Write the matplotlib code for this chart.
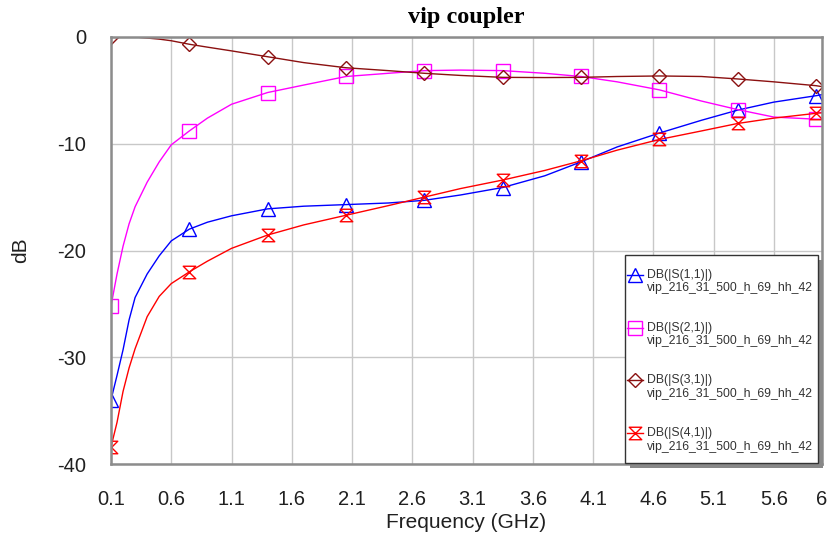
import matplotlib
matplotlib.use("Agg")
import matplotlib.pyplot as plt
from matplotlib.path import Path
from matplotlib.lines import Line2D
from matplotlib.patches import Rectangle

# Frequency samples (GHz)
freq = [0.1, 0.15, 0.2, 0.25, 0.3, 0.4, 0.5, 0.6, 0.75, 0.9, 1.1, 1.4, 1.7,
        2.05, 2.4, 2.7, 3.0, 3.35, 3.7, 4.0, 4.3, 4.65, 5.0, 5.3, 5.6, 5.95, 6.0]

# Marker frequencies (every 0.65 GHz from 0.1)
marker_freq = [0.1, 0.75, 1.4, 2.05, 2.7, 3.35, 4.0, 4.65, 5.3, 5.95]

s11 = [-34.0, -31.7, -29.3, -26.5, -24.4, -22.2, -20.5, -19.1, -18.0, -17.35,
       -16.75, -16.1, -15.85, -15.7, -15.55, -15.3, -14.8, -14.1, -13.0, -11.7,
       -10.3, -9.0, -7.8, -6.85, -6.1, -5.5, -5.4]
s21 = [-25.2, -22.2, -19.6, -17.5, -15.9, -13.6, -11.7, -10.1, -8.8, -7.6,
       -6.3, -5.2, -4.5, -3.7, -3.4, -3.15, -3.1, -3.15, -3.4, -3.7,
       -4.2, -4.95, -6.0, -6.8, -7.5, -7.7, -7.7]
s31 = [0.0, -0.05, 0.0, 0.0, 0.0, -0.1, -0.2, -0.35, -0.68, -0.95,
       -1.3, -1.85, -2.4, -2.88, -3.15, -3.4, -3.6, -3.78, -3.8, -3.78,
       -3.7, -3.65, -3.7, -3.93, -4.2, -4.56, -4.65]
s41 = [-38.4, -36.1, -33.2, -31.0, -29.2, -26.2, -24.3, -23.1, -22.0, -21.0,
       -19.8, -18.55, -17.6, -16.7, -15.8, -15.0, -14.2, -13.4, -12.5, -11.6,
       -10.6, -9.6, -8.8, -8.1, -7.6, -7.15, -7.1]

trace_names = ["DB(|S(1,1)|)", "DB(|S(2,1)|)", "DB(|S(3,1)|)", "DB(|S(4,1)|)"]
doc_name = "vip_216_31_500_h_69_hh_42"
colors = ["#0000ff", "#ff00ff", "#8b1010", "#ff0000"]

xticks = [0.1, 0.6, 1.1, 1.6, 2.1, 2.6, 3.1, 3.6, 4.1, 4.6, 5.1, 5.6, 6]
xticklabels = ["0.1", "0.6", "1.1", "1.6", "2.1", "2.6", "3.1", "3.6",
               "4.1", "4.6", "5.1", "5.6", "6"]
yticks = [-40, -30, -20, -10, 0]

# Hourglass marker: two triangles meeting at their tips
hourglass = Path([(-1, 1), (1, 1), (-1, -1), (1, -1), (-1, 1)],
                 [Path.MOVETO, Path.LINETO, Path.LINETO, Path.LINETO, Path.CLOSEPOLY])
markers = ["^", "s", "D", hourglass]
msizes = [10, 9.5, 7, 9]

plt.rcParams["font.family"] = ["Liberation Sans", "DejaVu Sans"]
plt.rcParams["axes.unicode_minus"] = False

W, H = 829, 543
fig = plt.figure(figsize=(W / 100, H / 100), dpi=100)
ax = fig.add_axes([111 / W, 1 - 464 / H, 711 / W, 427 / H])

mark_idx = [freq.index(f) for f in marker_freq]
for series, col, mk, ms in zip([s11, s21, s31, s41], colors, markers, msizes):
    ax.plot(freq, series, color=col, lw=1.0, marker=mk, markevery=mark_idx,
            markersize=ms, markerfacecolor="none", markeredgecolor=col,
            markeredgewidth=1.0)

ax.set_xlim(0.1, 6)
ax.set_ylim(-40, 0)
ax.set_xticks(xticks)
ax.set_xticklabels(xticklabels)
ax.set_yticks(yticks)
ax.grid(True, color="#c8c8c8", lw=1.0)
ax.set_axisbelow(True)
ax.tick_params(axis="x", length=0, labelsize=14.5, colors="#202020", pad=19)
ax.tick_params(axis="y", length=0, labelsize=14.5, colors="#202020", pad=18)
for sp in ax.spines.values():
    sp.set_color("#8c8c8c")
    sp.set_linewidth(1.8)

ax.set_xlabel("Frequency (GHz)", fontsize=15, color="#202020")
ax.xaxis.label.set_va("center")
ax.xaxis.set_label_coords(0.5, (464 - 523) / 427)
ax.set_ylabel("dB", fontsize=15, color="#202020")
ax.yaxis.label.set_va("center")
ax.yaxis.set_label_coords((21 - 111) / 711, 0.5)

fig.text((111 + 711 / 2) / W, 1 - 17 / H, "vip coupler", fontsize=17.5,
         fontweight="bold", family=["Liberation Serif", "DejaVu Serif"],
         ha="center", va="center")


# Legend box drawn in pixel positions of the figure
def px(x, y):
    return x / W, 1 - y / H


lx0, ly0, lx1, ly1 = 625, 255, 818, 463
shadow = Rectangle(px(lx0 + 5, ly1 + 5), (lx1 - lx0) / W, (ly1 - ly0) / H,
                   transform=fig.transFigure, facecolor="#888888",
                   edgecolor="none", zorder=5)
box = Rectangle(px(lx0, ly1), (lx1 - lx0) / W, (ly1 - ly0) / H,
                transform=fig.transFigure, facecolor="white",
                edgecolor="#333333", lw=1.0, zorder=6)
fig.add_artist(shadow)
fig.add_artist(box)

for i, (name, col, mk, ms) in enumerate(zip(trace_names, colors, markers, msizes)):
    yc = 275 + 52.7 * i
    xa, ya = px(627, yc)
    xb, _ = px(643, yc)
    xm, _ = px(635, yc)
    fig.add_artist(Line2D([xa, xb], [ya, ya], transform=fig.transFigure,
                          color=col, lw=1.0, zorder=7))
    fig.add_artist(Line2D([xm], [ya], transform=fig.transFigure, marker=mk,
                          markersize=ms, markerfacecolor="none",
                          markeredgecolor=col, markeredgewidth=1.0,
                          linestyle="none", zorder=7))
    tx, ty = px(647, yc)
    fig.text(tx, ty, name, fontsize=8.8, color="#333333", ha="left",
             va="center", zorder=8)
    tx, ty2 = px(647, yc + 13.5)
    fig.text(tx, ty2, doc_name, fontsize=8.8, color="#333333", ha="left",
             va="center", zorder=8)

fig.savefig("out.png", dpi=100)
